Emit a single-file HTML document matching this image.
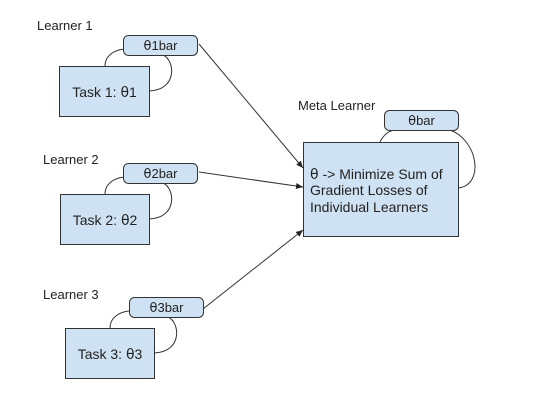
<!DOCTYPE html>
<html><head><style>
html,body{margin:0;padding:0;background:#fff;}
svg{display:block;}
text{font-family:"Liberation Sans","DejaVu Sans",sans-serif;fill:#222;}
.t{font-family:"DejaVu Sans",sans-serif;}
</style></head><body>
<svg width="552" height="400" viewBox="0 0 552 400" xmlns="http://www.w3.org/2000/svg">
<defs><marker id="a" markerWidth="8" markerHeight="8" refX="7" refY="4" orient="auto" markerUnits="userSpaceOnUse"><path d="M0,1 L7,4 L0,7 z" fill="#222"/></marker></defs>
<g stroke="#333" stroke-width="1" fill="none">
<path d="M105,66 C105,55 115,50 124,49"/>
<path d="M163,55 C175,60 178,90 149,91"/>
<path d="M105,194 C105,183 115,178 124,177"/>
<path d="M163,183 C175,188 178,218 149,219"/>
<path d="M110,328 C110,317 120,312 129,311"/>
<path d="M168,317 C180,322 183,352 154,353"/>
<path d="M380,142 C385,132 392,130 396,130"/>
<path d="M450,130 C478,140 485,185 458,188"/>
<path d="M199,44 L303,168" marker-end="url(#a)"/>
<path d="M199,172 L303,187" marker-end="url(#a)"/>
<path d="M203,309 L303,230" marker-end="url(#a)"/>
</g>
<g fill="#cfe2f3" stroke="#333" stroke-width="1">
<rect x="59.5" y="66.5" width="90" height="50"/>
<rect x="123.5" y="35.5" width="74" height="20" rx="5"/>
<rect x="60.5" y="194.5" width="89" height="50"/>
<rect x="123.5" y="163.5" width="74" height="20" rx="5"/>
<rect x="65.5" y="328.5" width="89" height="50"/>
<rect x="129.5" y="297.5" width="74" height="20" rx="5"/>
<rect x="303.5" y="142.5" width="155" height="94"/>
<rect x="384.5" y="110.5" width="74" height="20" rx="5"/>
</g>
<g font-size="13">
<text x="37" y="30">Learner 1</text>
<text x="43" y="164">Learner 2</text>
<text x="43" y="299">Learner 3</text>
<text x="298" y="110">Meta Learner</text>
<text x="160.5" y="50" text-anchor="middle"><tspan class="t">θ</tspan>1bar</text>
<text x="160.5" y="178" text-anchor="middle"><tspan class="t">θ</tspan>2bar</text>
<text x="166.5" y="312" text-anchor="middle"><tspan class="t">θ</tspan>3bar</text>
<text x="421.5" y="125" text-anchor="middle"><tspan class="t">θ</tspan>bar</text>
</g>
<g font-size="14">
<text x="104.5" y="97" text-anchor="middle">Task 1: <tspan class="t">θ</tspan>1</text>
<text x="105" y="225" text-anchor="middle">Task 2: <tspan class="t">θ</tspan>2</text>
<text x="110" y="359" text-anchor="middle">Task 3: <tspan class="t">θ</tspan>3</text>
<text x="310" y="179"><tspan class="t">θ</tspan> -&gt; Minimize Sum of</text>
<text x="310" y="195">Gradient Losses of</text>
<text x="310" y="212">Individual Learners</text>
</g>
</svg>
</body></html>
